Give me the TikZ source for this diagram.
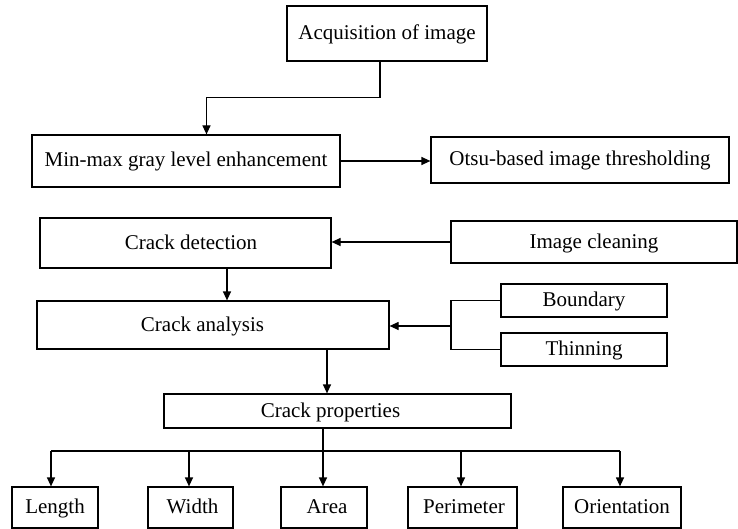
\documentclass[tikz,border=0pt]{standalone}
\usepackage{fontspec}
\setmainfont{Liberation Serif}
\usetikzlibrary{arrows.meta}
\begin{document}
\begin{tikzpicture}[x=1pt,y=-1pt,
  box/.style={draw, line width=1.2pt, inner sep=0pt, rectangle,
    text height=16pt, text depth=4pt,
    font=\fontsize{21}{25}\selectfont},
  link/.style={line width=1.2pt},
  arr/.style={line width=1.2pt, -{Triangle[length=9pt,width=8pt]}}]
\useasboundingbox (0,0) rectangle (738,529);
% nodes
\node[box, minimum width=200pt, minimum height=55pt] (acq) at (387,33.5) {Acquisition of image};
\node[box, minimum width=308pt, minimum height=52pt] (minmax) at (186,161) {Min-max gray level enhancement};
\node[box, minimum width=298pt, minimum height=46pt] (otsu) at (580,160) {Otsu-based image thresholding};
\node[box, minimum width=291pt, minimum height=50pt] (det) at (185.5,243) {\hspace*{11pt}Crack detection};
\node[box, minimum width=286pt, minimum height=42pt] (clean) at (594,242) {Image cleaning};
\node[box, minimum width=352pt, minimum height=48pt] (ana) at (213,325) {Crack analysis\hspace*{21pt}};
\node[box, minimum width=166pt, minimum height=33pt] (bound) at (584,300.5) {Boundary};
\node[box, minimum width=166pt, minimum height=33pt] (thin) at (584,349.5) {Thinning};
\node[box, minimum width=347pt, minimum height=34pt] (props) at (337.5,411) {Crack properties\hspace*{14pt}};
\node[box, minimum width=86pt, minimum height=41pt] (length) at (55,507.5) {Length};
\node[box, minimum width=85pt, minimum height=41pt] (width) at (190.5,507.5) {\hspace*{4pt}Width};
\node[box, minimum width=86pt, minimum height=41pt] (area) at (324,507.5) {\hspace*{6pt}Area};
\node[box, minimum width=109pt, minimum height=41pt] (perim) at (462.5,507.5) {\hspace*{3pt}Perimeter};
\node[box, minimum width=118pt, minimum height=41pt] (orient) at (622,507.5) {Orientation};
% coordinates
\coordinate (br) at (451,326);
\coordinate (busL) at (51,451);
\coordinate (busR) at (620,451);
\coordinate (bus) at (323,451);
% connectors
\draw[arr] ([xshift=-7pt]acq.south) -- ++(0,36) -| ([xshift=20.5pt]minmax.north);
\draw[arr] (minmax.east) -- (minmax.east -| otsu.west);
\draw[arr] (clean.west) -- (clean.west -| det.east);
\draw[arr] ([xshift=41.5pt]det.south) -- ([xshift=41.5pt]det.south |- ana.north);
\draw[link] (bound.west) -- (bound.west -| br) -- (thin.west -| br) -- (thin.west);
\draw[arr] (br) -- (br -| ana.east);
\draw[arr] ([xshift=114pt]ana.south) -- ([xshift=114pt]ana.south |- props.north);
\draw[link] ([xshift=-14.5pt]props.south) -- (bus);
\draw[link] (busL) -- (busR);
\draw[arr] (busL) -- (busL |- length.north);
\draw[arr] ([xshift=-1.5pt]width.north |- bus) -- ([xshift=-1.5pt]width.north);
\draw[arr] ([xshift=-1pt]area.north |- bus) -- ([xshift=-1pt]area.north);
\draw[arr] ([xshift=-1.5pt]perim.north |- bus) -- ([xshift=-1.5pt]perim.north);
\draw[arr] (busR) -- (busR |- orient.north);
\end{tikzpicture}
\end{document}
